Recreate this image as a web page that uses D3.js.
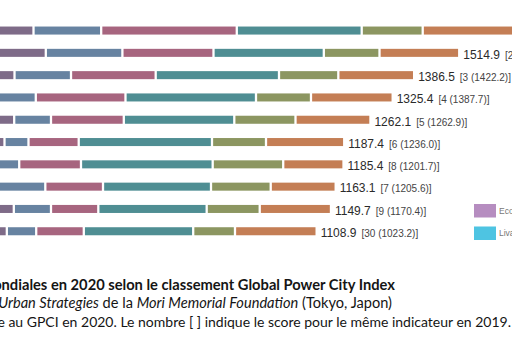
<!DOCTYPE html>
<html>
<head>
<meta charset="utf-8">
<script src="https://cdn.jsdelivr.net/npm/d3@7"></script>
<style>
  html, body { margin: 0; padding: 0; background: #fff; }
  svg { display: block; }
</style>
</head>
<body>
<svg id="chart" width="512" height="350"></svg>
<script>
// ---- Data ----
const cities = ["London", "New York", "Tokyo", "Paris", "Singapore", "Amsterdam", "Berlin", "Seoul", "Madrid", "Shanghai"];
const economy       = [302.7, 337.7, 248.6, 203.0, 247.7, 220.1, 203.0, 201.6, 246.6, 226.7];
const rnd           = [192.7, 218.1, 160.9, 106.2, 104.8,  68.3,  59.0, 134.7, 105.9,  83.7];
const culture       = [386.1, 259.4, 241.1, 255.4, 207.3, 143.0, 175.9, 164.3, 134.7, 135.5];
const livability    = [355.7, 314.1, 351.1, 371.6, 314.6, 379.5, 375.0, 307.5, 308.6, 311.5];
const environment   = [173.7, 158.6, 168.9, 156.6, 174.3, 153.8, 200.8, 170.0, 151.0, 119.0];
const accessibility = [278.6, 227.0, 215.9, 232.6, 213.4, 222.7, 171.7, 185.0, 202.9, 232.5];
const totals = ["1689.5", "1514.9", "1386.5", "1325.4", "1262.1", "1187.4", "1185.4", "1163.1", "1149.7", "1108.9"];
const previous = ["[1 (1694.4)]", "[2 (1564.9)]", "[3 (1422.2)]", "[4 (1387.7)]", "[5 (1262.9)]", "[6 (1236.0)]", "[8 (1201.7)]", "[7 (1205.6)]", "[9 (1170.4)]", "[30 (1023.2)]"];
const seriesKeys   = ["economy", "rnd", "culture", "livability", "environment", "accessibility"];
const legendLabels = ["Economy", "R&D", "Cultural Interaction", "Livability", "Environment", "Accessibility"];

// ---- Styles ----
const barColors    = ["#7e6b88", "#6783a1", "#a7657f", "#4f8e93", "#8c9661", "#c47e55"];
const legendColors = ["#b68dc0", "#5a8fcf", "#e0708f", "#4ec4e2", "#9cbf55", "#f0924c"];

const svg = d3.select("#chart");

const table = cities.map((c, i) => ({
  city: c,
  economy: economy[i], rnd: rnd[i], culture: culture[i],
  livability: livability[i], environment: environment[i], accessibility: accessibility[i],
  total: +totals[i], prev: previous[i], totalLabel: totals[i]
}));

const stacked = d3.stack().keys(seriesKeys)(table);

const x = d3.scaleLinear().domain([0, 2000]).range([-72.8, -72.8 + 2000 * 0.3512]);
const y = d3.scaleBand().domain(cities).range([19.4, 242.4]).paddingInner(0.64).paddingOuter(0.32);
const color = d3.scaleOrdinal().domain(seriesKeys).range(barColors);

const gap = 1.15;
svg.append("g").selectAll("g")
  .data(stacked)
  .join("g")
  .attr("fill", d => color(d.key))
  .selectAll("rect")
  .data(d => d)
  .join("rect")
  .attr("x", d => x(d[0]) + gap)
  .attr("y", d => y(d.data.city))
  .attr("width", d => Math.max(0, x(d[1]) - x(d[0]) - 2 * gap))
  .attr("height", y.bandwidth());

// value labels
const labels = svg.append("g").selectAll("text")
  .data(table)
  .join("text")
  .attr("x", d => x(d.total) + 4)
  .attr("y", d => y(d.city) + y.bandwidth() / 2)
  .attr("dy", "0.36em")
  .attr("font-family", "'Liberation Sans', Arial, sans-serif")
  .attr("fill", "#2a2a2a");
labels.append("tspan").attr("font-size", 12).text(d => d.totalLabel);
labels.append("tspan").attr("dx", 5).attr("font-size", 10).attr("fill", "#444").text(d => d.prev);

// legend (2 rows x 3 columns; only the first column falls inside the frame)
const legend = svg.append("g").attr("transform", "translate(474,204)");
const lg = legend.selectAll("g")
  .data(legendLabels)
  .join("g")
  .attr("transform", (d, i) => `translate(${(i % 3) * 110},${Math.floor(i / 3) * 22.5})`);
lg.append("rect").attr("width", 22).attr("height", 13.5).attr("fill", (d, i) => legendColors[i]);
lg.append("text").attr("x", 25).attr("y", 7).attr("dy", "0.35em")
  .attr("font-family", "'Liberation Sans', Arial, sans-serif")
  .attr("font-size", 8.5).attr("fill", "#777").text(d => d);

// caption
const cap = svg.append("g")
  .attr("font-family", "Lato, 'Open Sans', sans-serif")
  .attr("fill", "#151515")
  .attr("text-anchor", "end");

cap.append("text").attr("x", 395).attr("y", 290).attr("font-weight", "bold").attr("font-size", 14.7)
  .text("Figure 1 : Les villes mondiales en 2020 selon le classement Global Power City Index");

const l2 = cap.append("text").attr("x", 392).attr("y", 308).attr("font-size", 14.6);
l2.append("tspan").text("Source : Institute for ");
l2.append("tspan").attr("font-style", "italic").text("Urban Strategies");
l2.append("tspan").text(" de la ");
l2.append("tspan").attr("font-style", "italic").text("Mori Memorial Foundation");
l2.append("tspan").text(" (Tokyo, Japon)");

cap.append("text").attr("x", 511).attr("y", 326.5).attr("font-size", 14.0)
  .text("Note : Le premier nombre indique le score de chaque ville relatif à sa performance au GPCI en 2020. Le nombre [ ] indique le score pour le même indicateur en 2019.");
</script>
</body>
</html>
